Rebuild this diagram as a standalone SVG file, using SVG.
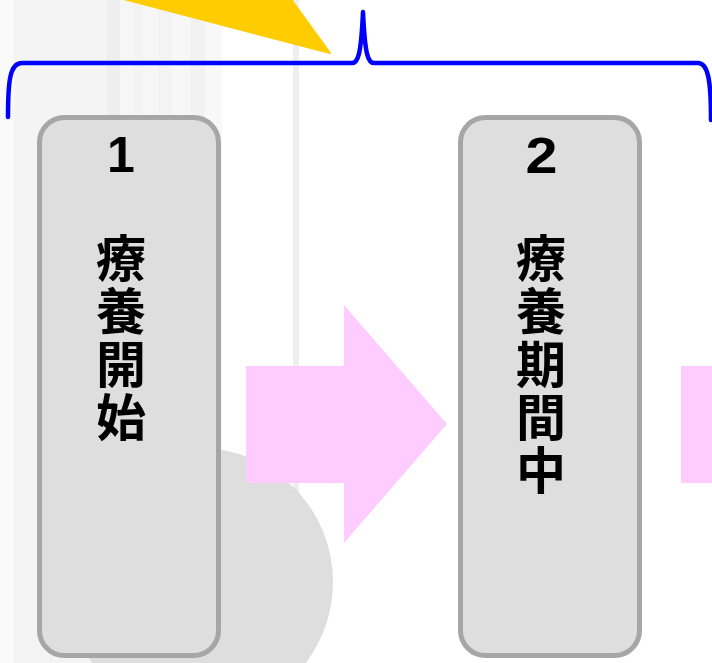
<svg xmlns="http://www.w3.org/2000/svg" width="712" height="663" viewBox="0 0 712 663">
<style>
.box{fill:#dedede;stroke:#a6a6a6;stroke-width:5}
.num{font-family:"Liberation Sans",Arial,sans-serif;font-weight:bold;font-size:50px;fill:#000;text-anchor:middle}
.jp{font-family:"Noto Sans CJK JP","Noto Sans CJK SC",sans-serif;font-weight:bold;font-size:50px;fill:#000;text-anchor:middle}
.arrow{fill:#ffccff}
</style>
<rect x="0" y="0" width="712" height="663" fill="#ffffff"/>
<g id="background">
<rect x="0" y="0" width="14" height="663" fill="#fafafa"/>
<rect x="14" y="0" width="93" height="663" fill="#f4f4f4"/>
<rect x="107" y="0" width="13" height="663" fill="#eeeeee"/>
<rect x="120" y="0" width="13" height="663" fill="#f6f6f6"/>
<rect x="133" y="0" width="10" height="663" fill="#f3f3f3"/>
<rect x="143" y="0" width="15" height="663" fill="#f6f6f6"/>
<rect x="158" y="0" width="14" height="663" fill="#f3f3f3"/>
<rect x="172" y="0" width="18" height="663" fill="#f7f7f7"/>
<rect x="190" y="0" width="15" height="663" fill="#f2f2f2"/>
<rect x="205" y="0" width="17" height="663" fill="#f8f8f8"/>
<rect x="293" y="0" width="6" height="663" fill="#eeeeee"/>
<circle cx="199" cy="582" r="134" fill="#dedede"/>
<polygon points="120,-2 290,-2 330,53" fill="#ffcc00" stroke="#ffcc00" stroke-width="2" stroke-linejoin="round"/>
</g>
<g id="connectors">
<polygon class="arrow" points="246,366 344,366 344,305 447,424 344,543 344,483 246,483"/>
<rect class="arrow" x="681" y="366" width="31" height="117"/>
<path d="M8,117 C8,80 10,63 22,63 L352,63 C358,63 361,55 363,12 C365,55 368,63 374,63 L698,63 C708,63 711,80 711,120" fill="none" stroke="#0000ff" stroke-width="4.5" stroke-linecap="round" stroke-linejoin="round"/>
</g>
<g id="node1">
<rect class="box" x="39.5" y="117.5" width="179" height="538" rx="25"/>
<text class="num" x="121" y="172">1</text>
<text class="jp"><tspan x="121" y="277">療</tspan><tspan x="121" y="330">養</tspan><tspan x="121" y="383">開</tspan><tspan x="121" y="436">始</tspan></text>
</g>
<g id="node2">
<rect class="box" x="460.5" y="117.5" width="179" height="538" rx="25"/>
<text class="num" x="541.5" y="173" transform="translate(541.5 0) scale(1.15 1) translate(-541.5 0)">2</text>
<text class="jp"><tspan x="541" y="277">療</tspan><tspan x="541" y="330">養</tspan><tspan x="541" y="383">期</tspan><tspan x="541" y="436">間</tspan><tspan x="541" y="489">中</tspan></text>
</g>
</svg>
